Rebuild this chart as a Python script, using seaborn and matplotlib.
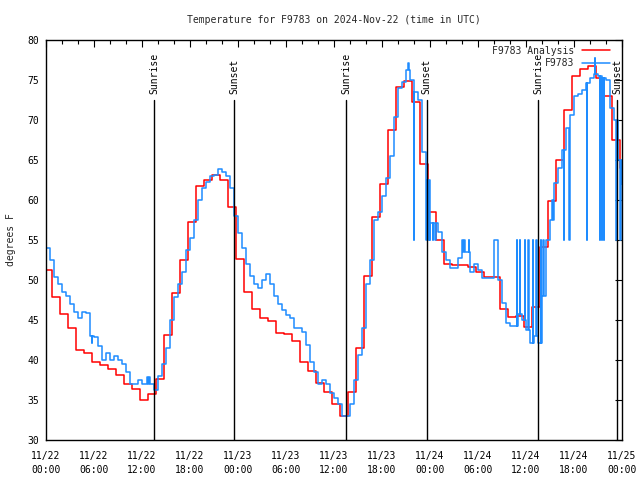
import numpy as np
import pandas as pd
import matplotlib
matplotlib.use('Agg')
import matplotlib.pyplot as plt
import matplotlib.dates as mdates
import seaborn as sns


START = pd.Timestamp('2024-11-22 00:00')

COLOR_ANALYSIS = '#ff0000'
COLOR_OBS = '#1e8cff'

# analysis temperature, one value per hour (step changes ~0.3 h before the hour)
analysis_hours = np.arange(0, 74) - 0.3
analysis_temp = [
    51.2, 47.9, 45.8, 44.0, 41.2, 40.9, 39.8, 39.4, 38.9, 38.1, 37.0, 36.4,
    35.0, 35.8, 37.6, 43.1, 48.4, 52.5, 57.2, 61.7, 62.5, 63.1, 62.5, 59.1,
    52.6, 48.5, 46.4, 45.2, 44.9, 43.4, 43.3, 42.4, 39.8, 38.6, 37.1, 36.0,
    34.5, 33.0, 36.0, 41.5, 50.5, 57.9, 62.0, 68.7, 74.1, 74.9, 72.3, 64.5,
    58.5, 55.0, 52.0, 51.9, 51.9, 51.6, 51.0, 50.4, 50.4, 46.4, 45.4, 45.5,
    44.1, 46.6, 54.1, 59.9, 65.0, 71.2, 75.5, 76.4, 76.8, 75.2, 73.0, 67.5,
    64.0, 64.0,
]

# station observations, every 30 minutes
obs_hours = np.arange(0, 72.5, 0.5)
obs_temp = [
    54.0, 52.5, 50.4, 49.5, 48.5, 48.0, 47.0, 46.0, 45.3, 46.0, 45.9, 43.0,
    42.9, 41.7, 40.0, 40.9, 40.0, 40.5, 40.0, 39.5, 38.5, 37.0, 37.0, 37.5,
    37.0, 37.0, 37.0, 36.3, 38.0, 39.5, 41.5, 45.0, 47.9, 49.5, 51.0, 53.8,
    55.2, 57.5, 60.0, 61.5, 62.3, 63.0, 63.1, 63.9, 63.5, 63.0, 61.5, 58.0,
    55.9, 54.0, 52.0, 50.5, 49.5, 49.0, 50.0, 50.8, 49.5, 48.0, 47.0, 46.3,
    45.6, 45.3, 44.0, 44.0, 43.5, 41.9, 39.8, 38.5, 37.0, 37.5, 37.0, 35.9,
    35.3, 34.5, 33.0, 33.0, 34.5, 37.5, 40.6, 44.0, 49.5, 52.5, 57.5, 58.5,
    60.5, 62.8, 65.5, 70.4, 74.0, 74.8, 76.2, 75.0, 73.5, 72.5, 66.0, 62.5,
    57.1, 57.1, 56.0, 53.5, 52.5, 51.5, 51.5, 52.7, 53.5, 53.5, 51.0, 52.0,
    51.2, 50.2, 50.2, 50.2, 55.0, 50.0, 47.1, 44.6, 44.3, 44.3, 45.8, 45.0,
    43.8, 42.1, 43.0, 42.1, 48.0, 55.0, 57.5, 62.1, 64.0, 66.2, 69.0, 70.6,
    73.0, 73.3, 73.8, 74.6, 75.2, 75.8, 75.5, 75.2, 75.0, 71.5, 70.0, 65.0,
    62.0,
]

# single bad / short readings in the observations
spike_hours = [5.7, 12.65, 12.9, 45.25, 45.95, 47.55, 47.75, 47.95, 48.35,
               48.65, 52.05, 52.3, 52.85, 58.85, 59.2, 59.85, 60.3, 60.85,
               61.3, 61.85, 62.15, 63.3, 64.7, 65.4, 67.6, 68.6, 69.2, 69.45,
               69.7, 71.3, 71.8]
spike_temp = [42.1, 37.9, 37.9, 77.1, 55.0, 55.0, 55.0, 55.0, 55.0,
              55.0, 55.0, 55.0, 55.0, 55.0, 55.0, 55.0, 55.0, 55.0,
              55.0, 55.0, 55.0, 60.0, 55.0, 55.0, 55.0, 77.8, 55.0, 55.0,
              55.0, 55.0, 55.0]

sun_hours = [13.5, 23.55, 37.55, 47.6, 61.5, 71.4]
sun_labels = ['Sunrise', 'Sunset', 'Sunrise', 'Sunset', 'Sunrise', 'Sunset']


def to_time(hours):
    return START + pd.to_timedelta(np.asarray(hours, dtype=float), unit='h')


# merge spikes into the 30 min observation series (each lasts 5 minutes)
SPIKE_LEN = 1 / 12
t_all = list(obs_hours)
v_all = list(obs_temp)
for t, v in zip(spike_hours, spike_temp):
    back = obs_temp[min(int((t + SPIKE_LEN) // 0.5), len(obs_temp) - 1)]
    t_all += [t, t + SPIKE_LEN]
    v_all += [v, back]

df_obs = pd.DataFrame({'hour': t_all, 'temp': v_all}).sort_values('hour')
df_obs['time'] = to_time(df_obs['hour'])
df_ana = pd.DataFrame({'time': to_time(analysis_hours), 'temp': analysis_temp})


sns.set_style('white')
plt.rcParams['font.family'] = ['DejaVu Sans Mono']
plt.rcParams['font.size'] = 7

fig = plt.figure(figsize=(6.4, 4.8), dpi=100)
ax = fig.add_axes([46 / 640, 40 / 480, 576 / 640, 400 / 480])

sns.lineplot(data=df_ana, x='time', y='temp', ax=ax, color=COLOR_ANALYSIS,
             lw=1.1, drawstyle='steps-post', estimator=None,
             label='F9783 Analysis')
sns.lineplot(data=df_obs, x='time', y='temp', ax=ax, color=COLOR_OBS,
             lw=1.1, drawstyle='steps-post', estimator=None, label='F9783')

for h, lab in zip(sun_hours, sun_labels):
    t = to_time([h])[0]
    ax.plot([t, t], [30, 72.5], color='black', lw=1.0)
    ax.text(t, 73.3, lab, rotation=90, ha='center', va='bottom',
            fontsize=7, color='black')

ax.set_xlim(START, START + pd.Timedelta(hours=72))
ax.set_ylim(30, 80)
ax.set_yticks(np.arange(30, 81, 5))
ax.xaxis.set_major_locator(mdates.HourLocator(byhour=[0, 6, 12, 18]))
ax.xaxis.set_minor_locator(mdates.HourLocator(byhour=range(0, 24, 2)))
ax.xaxis.set_major_formatter(mdates.DateFormatter('%m/%d\n%H:%M'))
ax.tick_params(which='both', direction='in', top=True, right=True,
               colors='black', labelsize=7)
ax.tick_params(which='major', length=5, width=0.8)
ax.tick_params(axis='x', which='major', pad=8)
ax.tick_params(axis='y', which='major', pad=5)
ax.tick_params(which='minor', length=3, width=0.8)
for lbl in ax.get_xticklabels():
    lbl.set_linespacing(1.5)
for sp in ax.spines.values():
    sp.set_color('black')
    sp.set_linewidth(1.0)

ax.set_xlabel('')
ax.set_ylabel('degrees F', fontsize=7, labelpad=8)
ax.set_title('Temperature for F9783 on 2024-Nov-22 (time in UTC)',
             fontsize=7, pad=12)

ax.legend(loc='upper right', bbox_to_anchor=(1 - 5 / 576, 1 + 1 / 400),
          frameon=False, markerfirst=False,
          handlelength=2.9, handletextpad=0.8, labelspacing=0.25,
          borderpad=0.4, borderaxespad=0.3, fontsize=7)

fig.savefig('out.png', dpi=100)
